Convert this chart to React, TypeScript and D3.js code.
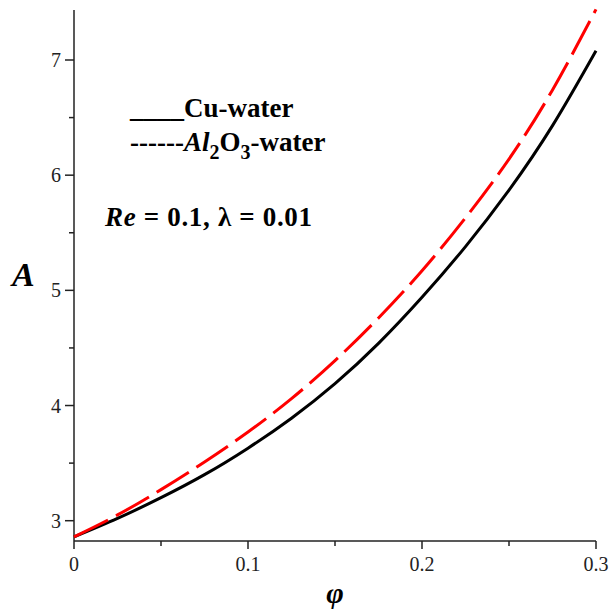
import React from "react";
import * as d3 from "d3";

const phiValues = [0, 0.025, 0.05, 0.075, 0.1, 0.125, 0.15, 0.175, 0.2, 0.225, 0.25, 0.275, 0.3];
const cuWater = [2.86, 3.02, 3.2, 3.4, 3.63, 3.89, 4.19, 4.54, 4.94, 5.38, 5.87, 6.43, 7.08];
const al2o3Water = [2.86, 3.05, 3.27, 3.51, 3.77, 4.06, 4.39, 4.76, 5.17, 5.63, 6.14, 6.74, 7.44];
const xMajorTicks = [0, 0.1, 0.2, 0.3];
const xMinorTicks = [0.05, 0.15, 0.25];
const yMajorTicks = [3, 4, 5, 6, 7];
const yMinorTicks = [3.5, 4.5, 5.5, 6.5];

const W = 610;
const H = 614;
const FONT = "'Liberation Serif', 'Times New Roman', serif";

export default function App() {
  const x = d3.scaleLinear().domain([0, 0.3]).range([74, 596]);
  const y = d3.scaleLinear().domain([3, 7]).range([520.7, 60]);
  const yBottom = y.invert(541);
  const yTop = y.invert(10);

  const line = d3
    .line<number>()
    .x((_, i) => x(phiValues[i]))
    .y((d) => y(d))
    .curve(d3.curveNatural);

  const axisColor = "#222";

  return (
    <svg
      width={W}
      height={H}
      style={{ position: "absolute", left: 0, top: 0, background: "#fff" }}
      fontFamily={FONT}
    >
      <rect x={0} y={0} width={W} height={H} fill="#fff" />
      {/* axes */}
      <line x1={x(0)} x2={x(0)} y1={y(yBottom)} y2={y(yTop)} stroke={axisColor} strokeWidth={1.5} />
      <line x1={x(0)} x2={x(0.3)} y1={y(yBottom)} y2={y(yBottom)} stroke={axisColor} strokeWidth={1.5} />
      {xMajorTicks.map((t) => (
        <g key={"xm" + t}>
          <line x1={x(t)} x2={x(t)} y1={y(yBottom)} y2={y(yBottom) + 8} stroke={axisColor} strokeWidth={1.5} />
          <text x={x(t)} y={571} textAnchor="middle" fontSize={20} fill="#222">
            {t === 0 ? "0" : String(t)}
          </text>
        </g>
      ))}
      {xMinorTicks.map((t) => (
        <line key={"xn" + t} x1={x(t)} x2={x(t)} y1={y(yBottom)} y2={y(yBottom) + 5} stroke={axisColor} strokeWidth={1.5} />
      ))}
      {yMajorTicks.map((t) => (
        <g key={"ym" + t}>
          <line x1={x(0) - 9} x2={x(0)} y1={y(t)} y2={y(t)} stroke={axisColor} strokeWidth={1.5} />
          <text x={61} y={y(t) + 7} textAnchor="end" fontSize={20} fill="#222">
            {String(t)}
          </text>
        </g>
      ))}
      {yMinorTicks.map((t) => (
        <line key={"yn" + t} x1={x(0) - 5} x2={x(0)} y1={y(t)} y2={y(t)} stroke={axisColor} strokeWidth={1.5} />
      ))}

      {/* curves */}
      <path d={line(cuWater) || ""} fill="none" stroke="#000" strokeWidth={3} />
      <path d={line(al2o3Water) || ""} fill="none" stroke="#ff0000" strokeWidth={3} strokeDasharray="38 9" />

      {/* axis labels */}
      <text x={12} y={286} fontSize={34} fontWeight="bold" fontStyle="italic">A</text>
      <text x={335} y={603} textAnchor="middle" fontSize={30} fontWeight="bold" fontStyle="italic">φ</text>

      {/* legend */}
      <text x={130} y={117} fontSize={27} fontWeight="bold">
        ____Cu-water
      </text>
      <text x={130} y={151} fontSize={27} fontWeight="bold">
        <tspan>------</tspan>
        <tspan fontStyle="italic">Al</tspan>
        <tspan dy={8} fontSize={20}>2</tspan>
        <tspan dy={-8}>O</tspan>
        <tspan dy={8} fontSize={20}>3</tspan>
        <tspan dy={-8}>-water</tspan>
      </text>

      {/* annotation */}
      <text x={105} y={226} fontSize={27} fontWeight="bold" textLength={207} lengthAdjust="spacing">
        <tspan fontStyle="italic">Re</tspan>
        <tspan> = 0.1,  </tspan>
        <tspan>λ</tspan>
        <tspan> = 0.01</tspan>
      </text>
    </svg>
  );
}
